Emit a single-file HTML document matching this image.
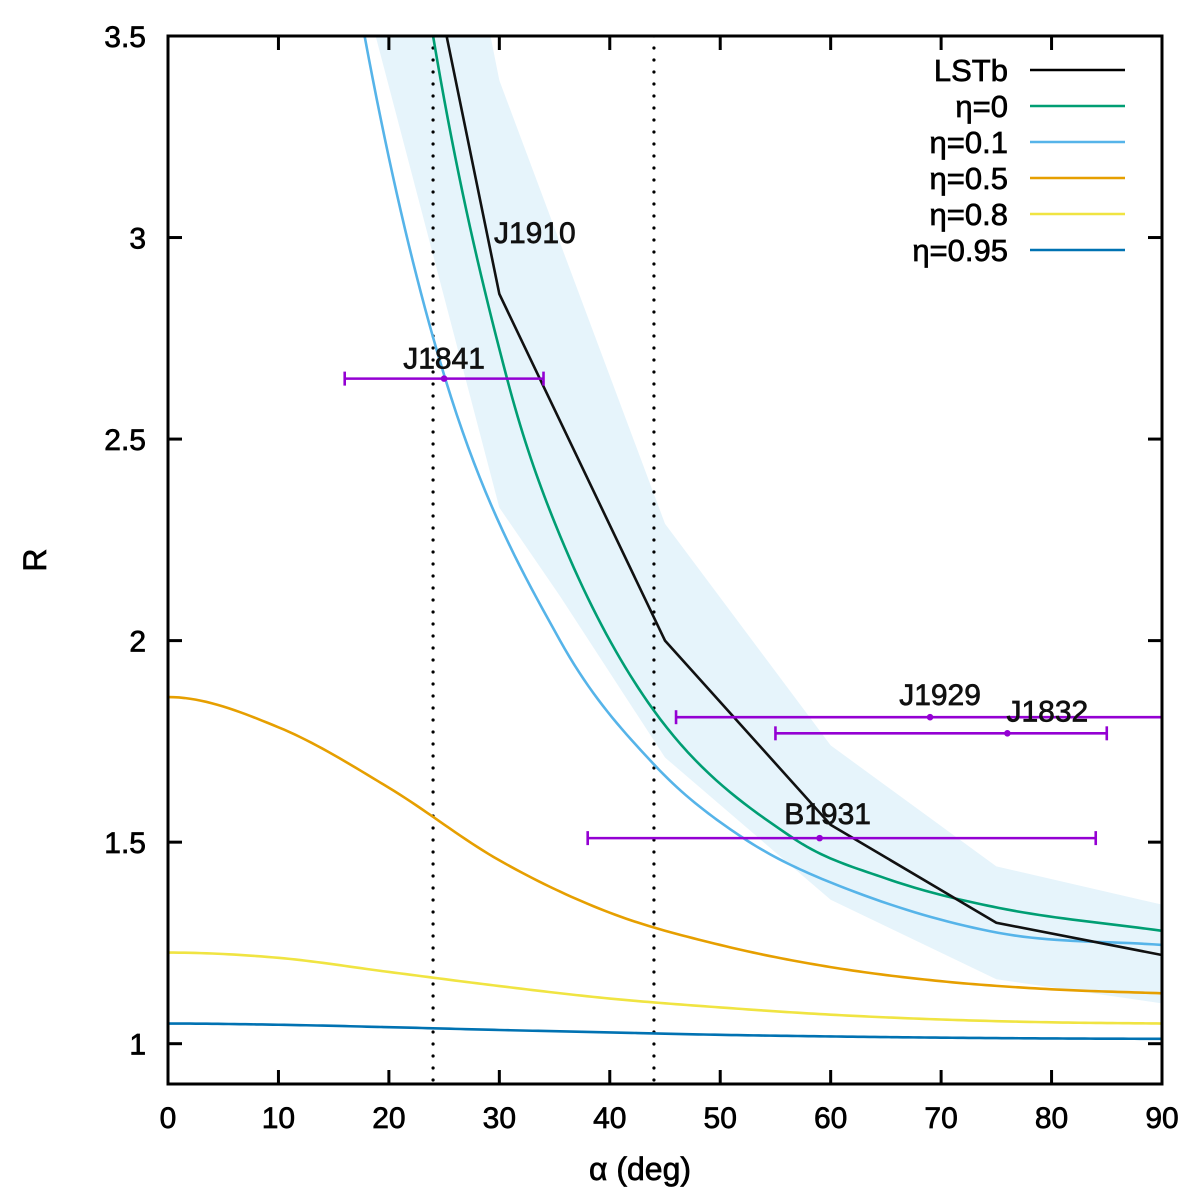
<!DOCTYPE html>
<html><head><meta charset="utf-8"><style>
body{margin:0;background:#fff}
svg{display:block;font-family:"Liberation Sans",sans-serif}
text{stroke:currentColor;stroke-width:0.7px}
</style></head><body>
<svg id="chart" width="1200" height="1200" viewBox="0 0 1200 1200"></svg>
<script>
const xTicks=[0,10,20,30,40,50,60,70,80,90];
const yTicks=[1,1.5,2,2.5,3,3.5];
const yTickLabels=["1","1.5","2","2.5","3","3.5"];
const bandUpperA=[29.2,30,45,60,75,90];
const bandUpperR=[3.5,3.39,2.29,1.74,1.44,1.345];
const bandLowerA=[18.8,30,35.5,45,60,75,90];
const bandLowerR=[3.5,2.33,2.11,1.71,1.357,1.16,1.10];
const lstbA=[20,30,45,60,75,90];
const lstbR=[4.2,2.86,2.0,1.543,1.30,1.22];
const eta0A=[20,24,30.7,35.5,43.9,56.6,65,75.2,90];
const eta0R=[4.3,3.5,2.65,2.26,1.83,1.51,1.41,1.337,1.28];
const eta01A=[15,17.8,25.1,35.5,44.1,52.1,60,75.2,90];
const eta01R=[4.0,3.5,2.65,2.0,1.69,1.51,1.40,1.275,1.245];
const eta05A=[0,10,20,30,40,50,60,70,80,90];
const eta05R=[1.86,1.785,1.635,1.455,1.325,1.245,1.19,1.155,1.135,1.125];
const eta08A=[0,10,20,30,40,50,60,70,80,90];
const eta08R=[1.226,1.213,1.178,1.143,1.112,1.09,1.072,1.06,1.053,1.05];
const eta095A=[0,10,20,30,40,50,60,70,80,90];
const eta095R=[1.05,1.047,1.041,1.034,1.028,1.022,1.018,1.015,1.013,1.012];
const pulsarNames=["J1841","J1929","J1832","B1931"];
const pulsarA=[25,69,76,59];
const pulsarLo=[16,46,55,38];
const pulsarHi=[34,95,85,84];
const pulsarR=[2.65,1.81,1.77,1.51];
const vlines=[24,44];
const legendLabels=["LSTb","η=0","η=0.1","η=0.5","η=0.8","η=0.95"];
const legendColors=["#000000","#009e73","#56b4e9","#e69f00","#f0e442","#0072b2"];

const X0=168,X1=1162,Y0=36,Y1=1084;
const xs=a=>X0+(a-0)/90*(X1-X0);
const ys=r=>Y0+(3.5-r)/2.6*(Y1-Y0);
const NS="http://www.w3.org/2000/svg";
const svg=document.getElementById('chart');
function mk(tag,at,parent){const e=document.createElementNS(NS,tag);for(const k in at)e.setAttribute(k,at[k]);(parent||svg).appendChild(e);return e;}
const defs=mk('defs',{});
const cp=mk('clipPath',{id:'clip'},defs);
mk('rect',{x:X0,y:Y0,width:X1-X0,height:Y1-Y0},cp);
const plot=mk('g',{'clip-path':'url(#clip)'});



let bp=[];
for(let i=0;i<bandUpperA.length;i++)bp.push(xs(bandUpperA[i])+','+ys(bandUpperR[i]));
for(let i=bandLowerA.length-1;i>=0;i--)bp.push(xs(bandLowerA[i])+','+ys(bandLowerR[i]));
const band=mk('polygon',{points:bp.join(' '),fill:'#e6f4fb'},plot);



function smooth(A,R){
  const n=A.length,d=[],m=new Array(n);
  for(let i=0;i<n-1;i++)d.push((R[i+1]-R[i])/(A[i+1]-A[i]));
  m[0]=d[0];m[n-1]=d[n-2];
  for(let i=1;i<n-1;i++){m[i]=(d[i-1]*d[i]<=0)?0:(d[i-1]+d[i])/2;}
  if(A[0]===0)m[0]=0;
  let path='M'+xs(A[0])+','+ys(R[0]);
  for(let i=0;i<n-1;i++){
    const h=A[i+1]-A[i];
    for(let k=1;k<=20;k++){
      const t=k/20,t2=t*t,t3=t2*t;
      const v=(2*t3-3*t2+1)*R[i]+(t3-2*t2+t)*h*m[i]+(-2*t3+3*t2)*R[i+1]+(t3-t2)*h*m[i+1];
      path+=' L'+xs(A[i]+t*h).toFixed(2)+','+ys(v).toFixed(2);
    }
  }
  return path;
}
vlines.forEach(v=>{
  const l=mk('line',{x1:xs(v),x2:xs(v),y1:Y0,y2:Y1,stroke:'#000','stroke-width':3.2,'stroke-dasharray':'0 12','stroke-linecap':'round'},plot);
  
  
});
const series=[[eta095A,eta095R,'#0072b2','eta-0.95-curve'],[eta08A,eta08R,'#f0e442','eta-0.8-curve'],[eta05A,eta05R,'#e69f00','eta-0.5-curve'],[eta01A,eta01R,'#56b4e9','eta-0.1-curve'],[eta0A,eta0R,'#009e73','eta-0-curve']];
series.forEach(s=>{
  const p=mk('path',{d:smooth(s[0],s[1]),fill:'none',stroke:s[2],'stroke-width':2.6},plot);
  
  
});
const lst=mk('polyline',{points:lstbA.map((a,i)=>xs(a)+','+ys(lstbR[i])).join(' '),fill:'none',stroke:'#111','stroke-width':2.6},plot);



const labOff=[[0,-10],[10,-12],[40,-12],[8,-14]];
pulsarNames.forEach((n,i)=>{
  const g=mk('g',{stroke:'#9400d3','stroke-width':2.6},plot);
  
  
  const y=ys(pulsarR[i]);
  mk('line',{x1:xs(pulsarLo[i]),x2:xs(pulsarHi[i]),y1:y,y2:y},g);
  mk('line',{x1:xs(pulsarLo[i]),x2:xs(pulsarLo[i]),y1:y-7,y2:y+7},g);
  mk('line',{x1:xs(pulsarHi[i]),x2:xs(pulsarHi[i]),y1:y-7,y2:y+7},g);
  mk('circle',{cx:xs(pulsarA[i]),cy:y,r:2,fill:'#9400d3'},g);
  const t=mk('text',{x:xs(pulsarA[i])+labOff[i][0],y:y+labOff[i][1],'font-size':30,'text-anchor':'middle',fill:'#111',color:'#111'});
  t.textContent=n;
  
  
});
const tj=mk('text',{x:494,y:243,'font-size':30,fill:'#111',color:'#111'});
tj.textContent='J1910';



const fr=mk('rect',{x:X0,y:Y0,width:X1-X0,height:Y1-Y0,fill:'none',stroke:'#000','stroke-width':3});


xTicks.forEach(v=>{
  const x=xs(v);
  mk('line',{x1:x,x2:x,y1:Y1,y2:Y1-14,stroke:'#000','stroke-width':3});
  mk('line',{x1:x,x2:x,y1:Y0,y2:Y0+14,stroke:'#000','stroke-width':3});
  const t=mk('text',{x:x,y:1128,'font-size':30,'text-anchor':'middle',fill:'#000',color:'#000'});
  t.textContent=v;
  
  
});
yTicks.forEach((v,i)=>{
  const y=ys(v);
  mk('line',{x1:X0,x2:X0+14,y1:y,y2:y,stroke:'#000','stroke-width':3});
  mk('line',{x1:X1,x2:X1-14,y1:y,y2:y,stroke:'#000','stroke-width':3});
  const t=mk('text',{x:146,y:y+11,'font-size':30,'text-anchor':'end',fill:'#000',color:'#000'});
  t.textContent=yTickLabels[i];
  
  
});
const xt=mk('text',{x:640,y:1180,'font-size':32,'text-anchor':'middle',fill:'#000',color:'#000'});
xt.textContent='α (deg)';


const yt=mk('text',{x:46,y:560,'font-size':32,'text-anchor':'middle',fill:'#000',color:'#000',transform:'rotate(-90 46 560)'});
yt.textContent='R';



legendLabels.forEach((l,i)=>{
  const y=70+i*36;
  const g=mk('g',{});
  
  
  const t=mk('text',{x:1008,y:y+11,'font-size':31,'text-anchor':'end',fill:'#000',color:'#000'},g);
  t.textContent=l;
  mk('line',{x1:1030,x2:1125,y1:y,y2:y,stroke:legendColors[i],'stroke-width':2.6},g);
});
</script>
</body></html>
